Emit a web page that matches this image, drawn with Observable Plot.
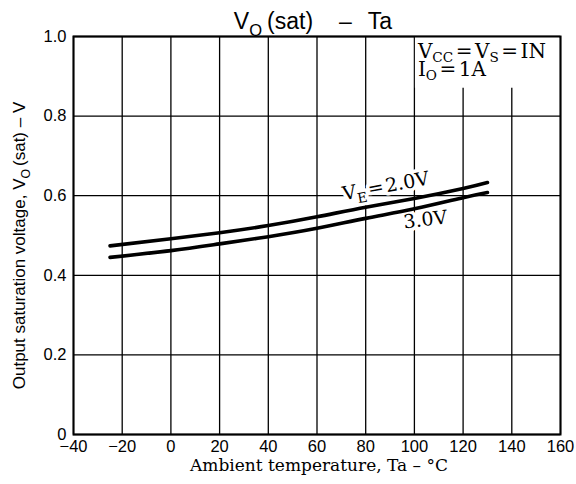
<!DOCTYPE html>
<html>
<head>
<meta charset="utf-8">
<script src="https://cdn.jsdelivr.net/npm/d3@7"></script>
<script src="https://cdn.jsdelivr.net/npm/@observablehq/plot@0.6"></script>
<style>
  body { margin: 0; background: #fff; }
  svg { display: block; }
</style>
</head>
<body>
<div id="chart"></div>
<script>
// ---- data ----
const temps = [-25, 0, 20, 40, 60, 80, 100, 120, 130];          // Ta (°C)
const vsatVE20 = [0.474, 0.492, 0.507, 0.525, 0.547, 0.571, 0.593, 0.618, 0.633]; // VE = 2.0V
const vsatVE30 = [0.445, 0.462, 0.479, 0.497, 0.518, 0.543, 0.567, 0.595, 0.608]; // VE = 3.0V
const seriesNames = ["VE = 2.0V", "3.0V"];
const xTicks = [-40, -20, 0, 20, 40, 60, 80, 100, 120, 140, 160];
const xTickLabels = ["−40", "−20", "0", "20", "40", "60", "80", "100", "120", "140", "160"];
const yTicks = [0, 0.2, 0.4, 0.6, 0.8, 1.0];
const yTickLabels = ["0", "0.2", "0.4", "0.6", "0.8", "1.0"];
const titleText = "VO (sat) – Ta";
const xLabel = "Ambient temperature, Ta – °C";
const yLabel = "Output saturation voltage, VO (sat) – V";
const condLines = ["VCC = VS = IN", "IO = 1A"];

const rows = [];
temps.forEach((t, i) => {
  rows.push({ series: seriesNames[0], t, v: vsatVE20[i] });
  rows.push({ series: seriesNames[1], t, v: vsatVE30[i] });
});
const xMap = new Map(xTicks.map((d, i) => [d, xTickLabels[i]]));
const yMap = new Map(yTicks.map((d, i) => [d, yTickLabels[i]]));

// label anchors: points on each curve
const labelRows = [
  { ...rows.find(r => r.series === seriesNames[0] && r.t === 80), text: seriesNames[0] },
  { ...rows.find(r => r.series === seriesNames[1] && r.t === 100), text: seriesNames[1] }
];

const SANS = "Liberation Sans, Arial, sans-serif";
const SERIF = "DejaVu Serif, serif";
const mid = { lineAnchor: "middle", textAnchor: "middle" };

const plot = Plot.plot({
  width: 576,
  height: 484,
  marginLeft: 73,
  marginRight: 16,
  marginTop: 36,
  marginBottom: 50,
  x: { domain: [-40, 160] },
  y: { domain: [0, 1] },
  style: { background: "#fff", color: "#000", fontFamily: SANS },
  marks: [
    Plot.gridX(xTicks, { stroke: "#000", strokeOpacity: 1, strokeWidth: 1.3 }),
    Plot.gridY(yTicks, { stroke: "#000", strokeOpacity: 1, strokeWidth: 1.3 }),
    // white area behind the conditions note
    Plot.rect([condLines], { x1: 100, x2: 160, y1: 0.87, y2: 1, fill: "#fff", insetLeft: 1, insetRight: 1 }),
    Plot.frame({ stroke: "#000", strokeWidth: 2 }),
    Plot.axisX(xTicks, { tickSize: 0, tickPadding: 6, tickFormat: d => xMap.get(d), fontSize: 16.5, fontFamily: SANS, label: null }),
    Plot.axisY(yTicks, { tickSize: 0, tickPadding: 7, tickFormat: d => yMap.get(d), fontSize: 16.5, fontFamily: SANS, label: null }),
    // curve labels (with white halo masking grid)
    Plot.text(labelRows.slice(0, 1), { x: "t", y: "v", text: "text", dx: 20, dy: -21, rotate: -10.5,
      fontFamily: SERIF, fontSize: 19, fill: "#000", stroke: "#fff", strokeWidth: 7 }),
    Plot.text(labelRows.slice(1), { x: "t", y: "v", text: "text", dx: 11, dy: 11, rotate: -7,
      fontFamily: SERIF, fontSize: 19, fill: "#000", stroke: "#fff", strokeWidth: 7 }),
    Plot.line(rows, { x: "t", y: "v", z: "series", curve: "natural", stroke: "#000", strokeWidth: 3.6 }),
    // conditions note
    Plot.text([condLines[0]], { x: 100, frameAnchor: "top", lineAnchor: "middle", textAnchor: "start", dx: 3.5, dy: 15,
      fontFamily: SERIF, fontSize: 20, fill: "#000" }),
    Plot.text([condLines[1]], { x: 100, frameAnchor: "top", lineAnchor: "middle", textAnchor: "start", dx: 3.5, dy: 33.5,
      fontFamily: SERIF, fontSize: 20, fill: "#000" }),
    // title & axis labels
    Plot.text([titleText], { frameAnchor: "top", ...mid, dx: -4, dy: -15, fontFamily: SANS, fontSize: 23, fill: "#000" }),
    Plot.text([xLabel], { frameAnchor: "bottom", ...mid, dx: 2, dy: 31.5, fontFamily: SERIF, fontSize: 17, fill: "#000" }),
    Plot.text([yLabel], { frameAnchor: "left", ...mid, rotate: -90, dx: -54, dy: 10, fontFamily: SANS, fontSize: 17, fill: "#000" })
  ]
});

// subscripts via tspans
function richText(parts, fs, scale = 0.72, shift = 0.3) {
  let html = "", sub = false;
  const d = shift * fs;
  for (const [txt, isSub, dx] of parts) {
    const dxa = dx ? ` dx="${dx}"` : "";
    if (isSub && !sub) { html += `<tspan font-size="${scale * fs}" dy="${d}"${dxa}>${txt}</tspan>`; sub = true; }
    else if (!isSub && sub) { html += `<tspan dy="${-d}"${dxa}>${txt}</tspan>`; sub = false; }
    else html += `<tspan${dxa}>${txt}</tspan>`;
  }
  return html;
}
const replacements = new Map([
  [titleText, richText([["V"], ["O", true], ["(sat)", false, 5], ["–", false, 26], ["Ta", false, 16]], 23)],
  [yLabel, richText([["Output saturation voltage, V"], ["O", true], ["(sat) – V", false, 3]], 17)],
  [condLines[0], richText([["V"], ["CC", true], ["=", false, 2.5], ["V", false, 2.5], ["S", true], ["=", false, 2.5], ["IN", false, 2.5]], 20, 0.68, 0.2)],
  [condLines[1], richText([["I"], ["O", true], ["=", false, 2.5], ["1A", false, 2.5]], 20, 0.68, 0.2)],
  [seriesNames[0], richText([["V"], ["E", true], ["=", false, 2], ["2.0V", false, 2]], 19)]
]);
plot.querySelectorAll("text").forEach(el => {
  const key = el.textContent;
  if (replacements.has(key)) el.innerHTML = replacements.get(key);
});

document.getElementById("chart").appendChild(plot);
</script>
</body>
</html>
